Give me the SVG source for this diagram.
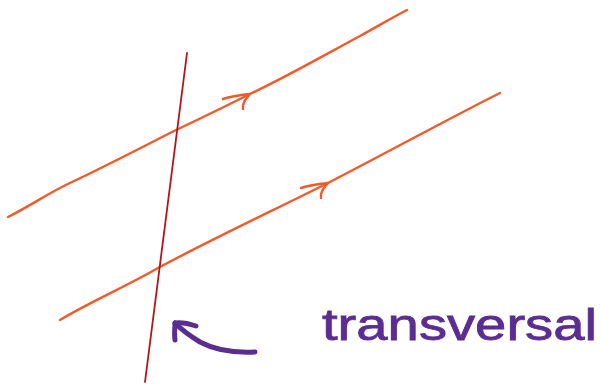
<svg xmlns="http://www.w3.org/2000/svg" width="601" height="387" viewBox="0 0 601 387">
<style>
.par{fill:none;stroke:#f15a2b;stroke-width:2.4;stroke-linecap:round;stroke-linejoin:round}
.trans{fill:none;stroke:#b3151b;stroke-width:1.8;stroke-linecap:round}
.pur{fill:none;stroke:#5c2d91;stroke-width:5;stroke-linecap:round;stroke-linejoin:round}
.lbl{font-family:"Liberation Sans",Arial,sans-serif;font-size:44px;fill:#5c2d91;stroke:#5c2d91;stroke-width:0.8}
</style>
<rect width="601" height="387" fill="#ffffff"/>
<g id="line1">
<path class="par" d="M8,217 C30,206 50,192 72,182 C110,164 150,143 176,130 C210,114 230,104 250,94 C290,75 330,52 360,36 C380,25 395,16 407,10"/>
<path class="par" d="M223,99 C232,96 241,95 250,94 C246,99 242,103 243,109"/>
</g>
<g id="line2">
<path class="par" d="M60,320 C90,302 125,287 158,268 C210,240 270,212 328,183 C390,151 450,118 500,93"/>
<path class="par" d="M301,188 C310,185 319,184 328,183 C324,188 320,192 321,198"/>
</g>
<g id="transversal">
<path class="trans" d="M187,53 L145,382"/>
</g>
<g id="pointer">
<path class="pur" d="M255,352 C235,353 215,350 200,342 C190,336 182,330 175,323"/>
<path class="pur" d="M196,326 C190,324 181,322 175,323 C175,328 174,334 175,340"/>
</g>
<g id="label">
<text class="lbl" x="322" y="340" textLength="275" lengthAdjust="spacingAndGlyphs">transversal</text>
</g>
</svg>
